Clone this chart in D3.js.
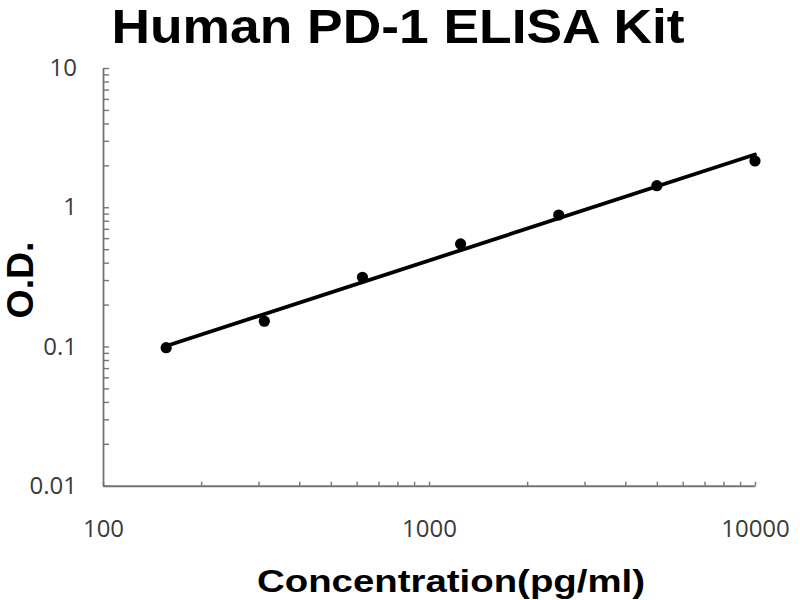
<!DOCTYPE html>
<html><head><meta charset="utf-8">
<script src="https://cdn.jsdelivr.net/npm/d3@7/dist/d3.min.js"></script>
<style>body{margin:0;background:#fff}svg{display:block}</style>
</head><body>
<svg id="c" width="800" height="600"></svg>
<script>
// Data
const concentrations = [156.25, 312.5, 625, 1250, 2500, 5000, 10000];
const odValues = [0.098, 0.152, 0.314, 0.545, 0.880, 1.428, 2.148];
const xTickLabels = [100, 1000, 10000];
const yTickLabels = [0.01, 0.1, 1, 10];
const titleText = "Human PD-1 ELISA Kit";
const xTitle = "Concentration(pg/ml)";
const yTitle = "O.D.";

const svg = d3.select("#c");
const M = {left:103, right:45, top:68, bottom:114.25};
const W = 800, H = 600;
const x = d3.scaleLog().domain([100, 10000]).range([M.left, W - M.right]);
const y = d3.scaleLog().domain([0.01, 10]).range([H - M.bottom, M.top]);

const minors = (lo, hi) => {
  const out = [];
  for (let d = lo; d < hi; d *= 10) for (let k = 1; k <= 9; k++) out.push(d * k);
  out.push(hi);
  return out;
};

const axisColor = "#747474";
const labelColor = "#3a3a3a";

// x axis
const gx = svg.append("g").attr("transform", `translate(0,${y(0.01)})`);
gx.call(d3.axisBottom(x).tickValues(minors(100, 10000)).tickSizeInner(-4).tickSizeOuter(0).tickFormat(""));
gx.select(".domain").attr("stroke", axisColor).attr("stroke-width", 1.8);
gx.selectAll(".tick line").attr("stroke", axisColor).attr("stroke-width", 1.4);
const gxl = svg.append("g").attr("transform", `translate(0,${y(0.01)})`);
gxl.call(d3.axisBottom(x).tickValues(xTickLabels).tickSize(0).tickPadding(34).tickFormat(d3.format("d")));
gxl.select(".domain").remove();
gxl.selectAll("text").attr("font-family", "Open Sans").attr("font-size", 24).attr("fill", labelColor).attr("dy", "0.71em");

// y axis
const gy = svg.append("g").attr("transform", `translate(${x(100)},0)`);
gy.call(d3.axisLeft(y).tickValues(minors(0.01, 10)).tickSizeInner(-6).tickSizeOuter(0).tickFormat(""));
gy.select(".domain").attr("stroke", axisColor).attr("stroke-width", 1.8);
gy.selectAll(".tick line").attr("stroke", axisColor).attr("stroke-width", 1.4);
const gyl = svg.append("g").attr("transform", `translate(${x(100)},0)`);
gyl.call(d3.axisLeft(y).tickValues(yTickLabels).tickSize(0).tickPadding(26).tickFormat(d => String(d)));
gyl.select(".domain").remove();
gyl.selectAll("text").attr("font-family", "Open Sans").attr("font-size", 24).attr("fill", labelColor);

// fitted power line (log-log regression on the data)
const lx = concentrations.map(Math.log10), ly = odValues.map(Math.log10);
const mx = d3.mean(lx), my = d3.mean(ly);
const slope = d3.sum(lx, (v, i) => (v - mx) * (ly[i] - my)) / d3.sum(lx, v => (v - mx) * (v - mx));
const icpt = my - slope * mx;
const fit = v => Math.pow(10, icpt + slope * Math.log10(v));
const ends = [concentrations[0], concentrations[concentrations.length - 1]];
svg.append("path")
  .datum(ends)
  .attr("d", d3.line().x(d => x(d)).y(d => y(fit(d))))
  .attr("stroke", "#000").attr("stroke-width", 3.8).attr("fill", "none").attr("stroke-linecap", "round");

// points
svg.append("g").selectAll("circle").data(concentrations).join("circle")
  .attr("cx", d => x(d)).attr("cy", (d, i) => y(odValues[i])).attr("r", 5.6).attr("fill", "#000");

// titles
svg.append("text").attr("x", 398).attr("y", 43).attr("text-anchor", "middle")
  .attr("font-family", "Liberation Sans, Arial, sans-serif").attr("font-weight", "bold")
  .attr("font-size", 49).attr("textLength", 573).attr("lengthAdjust", "spacingAndGlyphs")
  .attr("fill", "#000").text(titleText);
svg.append("text").attr("x", 451).attr("y", 592).attr("text-anchor", "middle")
  .attr("font-family", "Liberation Sans, Arial, sans-serif").attr("font-weight", "bold")
  .attr("font-size", 32).attr("textLength", 388).attr("lengthAdjust", "spacingAndGlyphs")
  .attr("fill", "#000").text(xTitle);
svg.append("text").attr("transform", "translate(33,280) rotate(-90)").attr("text-anchor", "middle")
  .attr("font-family", "Liberation Sans, Arial, sans-serif").attr("font-weight", "bold")
  .attr("font-size", 37).attr("textLength", 77).attr("lengthAdjust", "spacingAndGlyphs")
  .attr("fill", "#000").text(yTitle);
</script>
</body></html>
